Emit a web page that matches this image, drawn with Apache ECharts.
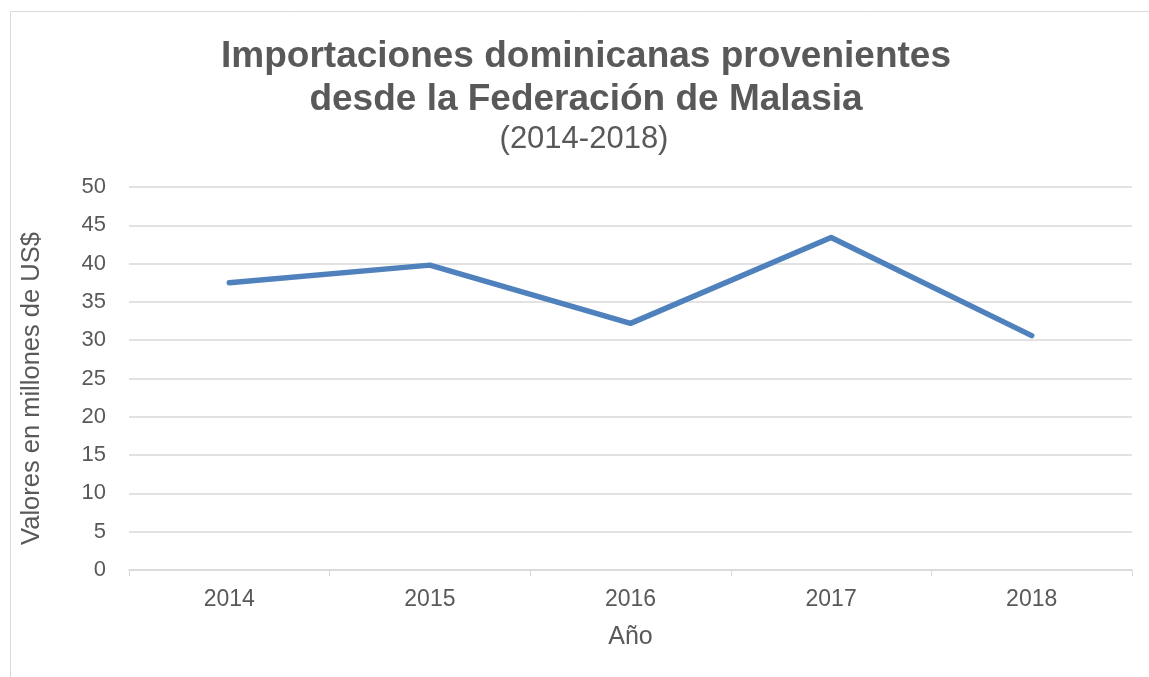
<!DOCTYPE html>
<html>
<head>
<meta charset="utf-8">
<script src="https://cdn.jsdelivr.net/npm/echarts@6/dist/echarts.min.js"></script>
<style>
  html, body { margin: 0; padding: 0; background: #fff; }
  #chart { width: 1149px; height: 677px; }
</style>
</head>
<body>
<div id="chart"></div>
<script>
var years = ['2014', '2015', '2016', '2017', '2018'];
var valores = [37.5, 39.8, 32.2, 43.4, 30.6];

var myChart = echarts.init(document.getElementById('chart'));
var font = '"Liberation Sans", Arial, sans-serif';
var option = {
    backgroundColor: '#fff',
    animation: false,
    graphic: [{
        type: 'rect',
        shape: { x: 10.5, y: 11.5, width: 1160, height: 700 },
        style: { fill: 'none', stroke: '#d9d9d9', lineWidth: 1 }
    }],
    title: [{
        text: 'Importaciones dominicanas provenientes\ndesde la Federación de Malasia',
        left: 581,
        textAlign: 'center',
        top: 30,
        textStyle: {
            color: '#595959',
            fontFamily: font,
            fontSize: 37,
            fontWeight: 'bold',
            lineHeight: 43
        }
    }, {
        text: '(2014-2018)',
        left: 579,
        textAlign: 'center',
        top: 119,
        textStyle: {
            color: '#595959',
            fontFamily: font,
            fontSize: 31,
            fontWeight: 'normal'
        }
    }],
    grid: {
        left: 129,
        right: 17,
        top: 187,
        bottom: 107,
        containLabel: false
    },
    xAxis: {
        type: 'category',
        data: years,
        boundaryGap: true,
        name: 'Año',
        nameLocation: 'middle',
        nameGap: 55,
        nameTextStyle: { color: '#595959', fontFamily: font, fontSize: 25 },
        axisLine: { lineStyle: { color: '#d9d9d9', width: 1.5 } },
        axisTick: { show: true, length: 6, lineStyle: { color: '#d9d9d9' } },
        axisLabel: { color: '#595959', fontFamily: font, fontSize: 23, margin: 18 },
        splitLine: { show: false }
    },
    yAxis: {
        type: 'value',
        min: 0,
        max: 50,
        interval: 5,
        name: 'Valores en millones de US$',
        nameLocation: 'middle',
        nameGap: 84,
        nameRotate: 90,
        nameTextStyle: { color: '#595959', fontFamily: font, fontSize: 25.5, padding: [0, 20, 0, 0] },
        axisLine: { show: false },
        axisTick: { show: false },
        axisLabel: { color: '#595959', fontFamily: font, fontSize: 22, margin: 23 },
        splitLine: { lineStyle: { color: '#d9d9d9', width: 1.5 } }
    },
    series: [{
        name: 'Importaciones',
        type: 'line',
        data: valores,
        symbol: 'none',
        lineStyle: { color: '#4f81bd', width: 5.5, cap: 'round', join: 'round' },
        itemStyle: { color: '#4f81bd' }
    }]
};
myChart.setOption(option);
</script>
</body>
</html>
